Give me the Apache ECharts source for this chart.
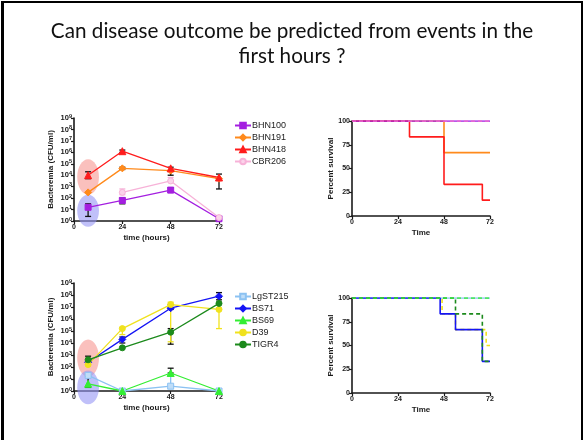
<!DOCTYPE html>
<html><head><meta charset="utf-8">
<script src="https://cdn.jsdelivr.net/npm/echarts@6/dist/echarts.min.js"></script>
<style>
html,body{margin:0;padding:0;background:#fff;}
#wrap{position:relative;width:584px;height:440px;overflow:hidden;}
#c{width:584px;height:440px;}
#frame{position:absolute;left:1px;top:1px;width:577px;height:460px;border-left:3px solid #000;border-top:2px solid #000;border-right:2px solid #000;pointer-events:none;}
</style></head>
<body><div id="wrap"><div id="c"></div><div id="frame"></div></div>
<script>
// ---- Data (bacteremia values are log10 CFU/ml) ----
const hours = [7, 24, 48, 72];
const bhn100 = [1.2, 1.8, 2.7, 0.2];
const bhn191 = [2.5, 4.6, 4.4, 3.7];
const bhn418 = [4.0, 6.1, 4.6, 3.8];
const cbr206 = [null, 2.5, 3.5, 0.3];
const lgst215 = [1.3, 0, 0.4, 0];
const bs71 = [2.4, 4.3, 6.9, 7.9];
const bs69 = [0.6, 0, 1.5, 0];
const d39 = [2.2, 5.2, 7.2, 6.8];
const tigr4 = [2.6, 3.6, 4.9, 7.3];

// error bars: [time, low, high]
const errTopBlack = [[7,3.7,4.3],[7,0.4,1.5],[24,6.0,6.2],[24,4.5,4.7],[24,1.5,2.0],[48,4.0,4.7],[48,2.5,2.9],[72,2.8,4.1]];
const errTopPink = [[24,2.3,2.8],[48,3.5,3.8],[72,0.2,0.4]];
const errBotBlack = [[7,2.4,2.9],[7,0.3,1.2],[24,4.0,4.5],[48,3.9,5.2],[48,6.8,7.2],[48,1.5,1.9],[72,7.8,8.2],[72,7.3,7.6]];
const errBotYellow = [[24,4.7,5.3],[48,4.1,7.4],[72,5.2,6.9]];
const errBotBlue = [[48,0.5,1.3]];

// highlighted early-time zones: [time, low, high]
const zoneTopHigh = [[7, 2.3, 5.4]];
const zoneTopLow = [[7, -0.5, 2.3]];
const zoneBotHigh = [[7, 1.2, 4.3]];
const zoneBotLow = [[7, -1.1, 1.7]];

// survival (%) curves: [time, percent]
const survBHN100 = [[0,100],[72,100]];
const survBHN191 = [[0,100],[48,66.7],[72,66.7]];
const survBHN418 = [[0,100],[30,83.3],[48,33.3],[68,16.7],[72,16.7]];
const survCBR206 = [[0,100],[72,100]];
const survLgST215 = [[0,100],[72,100]];
const survBS71 = [[0,100],[46,83.3],[54,66.7],[68,33.3],[72,33.3]];
const survBS69 = [[0,100],[72,100]];
const survD39 = [[0,100],[47,83.3],[54,66.7],[70,50],[72,50]];
const survTIGR4 = [[0,100],[54,83.3],[68,33.3],[72,33.3]];

// ---- Chart ----
const chart = echarts.init(document.getElementById('c'), null, {renderer:'canvas'});
const FONT = 'Liberation Sans, Arial, sans-serif';
const C = {
  bhn100:'#A41FE0', bhn191:'#FF8A1C', bhn418:'#FF1C1C', cbr206:'#F7B2D8',
  lgst215:'#8CC2F2', bs71:'#1414F5', bs69:'#33EE33', d39:'#F0E21E', tigr4:'#1C8A1C'
};
const axisLineStyle = {color:'#1a1a1a', width:1.6};
const tickStyle = {show:true, length:3, lineStyle:{color:'#1a1a1a', width:1.2}};
const labelBold = {fontFamily:FONT, fontSize:7, fontWeight:'bold', color:'#1a1a1a'};

function pairs(vals){ return hours.map((h,i)=> [h, vals[i]]); }

function logAxis(gi){
  return {type:'value', gridIndex:gi, min:0, max:9, interval:1,
    name:'Bacteremia (CFU/ml)', nameLocation:'middle', nameGap:19,
    nameTextStyle:{fontFamily:FONT, fontSize:8, fontWeight:'bold', color:'#1a1a1a'},
    axisLine:{show:true, lineStyle:axisLineStyle}, axisTick:tickStyle, splitLine:{show:false},
    axisLabel:{margin:2, formatter:v=>'{b|10}{s|'+v+'}',
      rich:{b:{fontFamily:FONT,fontSize:7.5,fontWeight:'bold',color:'#1a1a1a'},
            s:{fontFamily:FONT,fontSize:5.5,fontWeight:'bold',color:'#1a1a1a',verticalAlign:'top',padding:[0,0,4,0]}}}
  };
}
function timeAxis(gi, name){
  return {type:'value', gridIndex:gi, min:0, max:72, interval:24,
    name:name, nameLocation:'middle', nameGap:13,
    nameTextStyle:{fontFamily:FONT, fontSize:8, fontWeight:'bold', color:'#1a1a1a'},
    axisLine:{show:true, lineStyle:axisLineStyle}, axisTick:tickStyle, splitLine:{show:false},
    axisLabel:Object.assign({margin:3}, labelBold)};
}
function pctAxis(gi){
  return {type:'value', gridIndex:gi, min:0, max:100, interval:25,
    name:'Percent survival', nameLocation:'middle', nameGap:16,
    nameTextStyle:{fontFamily:FONT, fontSize:8, fontWeight:'bold', color:'#1a1a1a'},
    axisLine:{show:true, lineStyle:axisLineStyle}, axisTick:tickStyle, splitLine:{show:false},
    axisLabel:Object.assign({margin:2}, labelBold)};
}

function lineSeries(name, vals, color, symbol, gi, fill){
  return {type:'line', name, xAxisIndex:gi, yAxisIndex:gi, data:pairs(vals),
    symbol, symbolSize: symbol==='triangle'?7:(symbol==='diamond'?7:6), connectNulls:false,
    lineStyle:{color, width:1.3}, itemStyle:{color: fill||color, borderColor:color, borderWidth:1},
    z:5, animation:false};
}

function errRender(params, api){
  const x = api.value(0), lo = api.value(1), hi = api.value(2);
  const p1 = api.coord([x, lo]), p2 = api.coord([x, hi]);
  const w = 3;
  const st = {stroke: api.visual('color'), lineWidth:1.3, fill:null};
  return {type:'group', children:[
    {type:'line', shape:{x1:p1[0],y1:p1[1],x2:p2[0],y2:p2[1]}, style:st},
    {type:'line', shape:{x1:p1[0]-w,y1:p1[1],x2:p1[0]+w,y2:p1[1]}, style:st},
    {type:'line', shape:{x1:p2[0]-w,y1:p2[1],x2:p2[0]+w,y2:p2[1]}, style:st}
  ]};
}
function errSeries(data, color, gi){
  return {type:'custom', xAxisIndex:gi, yAxisIndex:gi, data, renderItem:errRender,
    itemStyle:{color}, encode:{x:0, y:[1,2]}, z:4, silent:true, animation:false};
}
function zoneRender(params, api){
  const t = api.value(0), lo = api.value(1), hi = api.value(2);
  const a = api.coord([t - 5.4, lo]), b = api.coord([t + 5.4, hi]);
  return {type:'ellipse', shape:{cx:(a[0]+b[0])/2, cy:(a[1]+b[1])/2, rx:Math.abs(b[0]-a[0])/2, ry:Math.abs(a[1]-b[1])/2},
    style:{fill: api.visual('color')}};
}
function zoneSeries(data, color, gi){
  return {type:'custom', xAxisIndex:gi, yAxisIndex:gi, data, renderItem:zoneRender, clip:false,
    itemStyle:{color}, encode:{x:0, y:[1,2]}, z:1, silent:true, animation:false};
}
function survSeries(data, color, gi, dashed, z){
  return {type:'line', xAxisIndex:gi, yAxisIndex:gi, data, step:'end', symbol:'none',
    lineStyle:{color, width:1.6, type: dashed?[4,3]:'solid'}, z:z||3, animation:false};
}

const legendText = {fontFamily:FONT, fontSize:9, color:'#222', padding:[0,0,0,-4]};
const option = {
  backgroundColor:'#fff',
  animation:false,
  title:{text:'Can disease outcome be predicted from events in the\nfirst hours ?', left:'center', top:14,
    textStyle:{fontFamily:'Lato, Carlito, sans-serif', fontSize:20.7, fontWeight:'normal', color:'#111', lineHeight:25}},
  legend:[
    {data:['BHN100','BHN191','BHN418','CBR206'], orient:'vertical', left:229, top:116, itemGap:3,
     itemWidth:16, itemHeight:7, textStyle:legendText},
    {data:['LgST215','BS71','BS69','D39','TIGR4'], orient:'vertical', left:229, top:287, itemGap:3,
     itemWidth:16, itemHeight:7, textStyle:legendText}
  ],
  grid:[
    {left:74, top:118, width:145, height:103},
    {left:352, top:121, width:138, height:95},
    {left:74, top:283, width:145, height:108},
    {left:352, top:298, width:138, height:95}
  ],
  xAxis:[timeAxis(0,'time (hours)'), timeAxis(1,'Time'), timeAxis(2,'time (hours)'), timeAxis(3,'Time')],
  yAxis:[logAxis(0), pctAxis(1), logAxis(2), pctAxis(3)],
  series:[
    zoneSeries(zoneTopHigh, 'rgba(246,150,145,0.6)', 0),
    zoneSeries(zoneTopLow, 'rgba(150,150,245,0.6)', 0),
    errSeries(errTopBlack, '#111', 0),
    errSeries(errTopPink, C.cbr206, 0),
    lineSeries('BHN100', bhn100, C.bhn100, 'rect', 0),
    lineSeries('BHN191', bhn191, C.bhn191, 'diamond', 0),
    lineSeries('BHN418', bhn418, C.bhn418, 'triangle', 0),
    lineSeries('CBR206', cbr206, C.cbr206, 'circle', 0, '#FBD3EA'),

    survSeries(survBHN191, C.bhn191, 1, false, 3),
    survSeries(survBHN418, C.bhn418, 1, false, 4),
    survSeries(survBHN100, C.bhn100, 1, false, 5),
    survSeries(survCBR206, '#F06BD0', 1, true, 6),

    zoneSeries(zoneBotHigh, 'rgba(246,150,145,0.6)', 2),
    zoneSeries(zoneBotLow, 'rgba(150,150,245,0.6)', 2),
    errSeries(errBotBlack, '#111', 2),
    errSeries(errBotYellow, C.d39, 2),
    errSeries(errBotBlue, C.lgst215, 2),
    lineSeries('LgST215', lgst215, C.lgst215, 'rect', 2, '#BFDDF8'),
    lineSeries('BS71', bs71, C.bs71, 'diamond', 2),
    lineSeries('BS69', bs69, C.bs69, 'triangle', 2),
    lineSeries('D39', d39, C.d39, 'circle', 2),
    lineSeries('TIGR4', tigr4, C.tigr4, 'circle', 2),

    survSeries(survD39, C.d39, 3, true, 4),
    survSeries(survBS71, C.bs71, 3, false, 5),
    survSeries(survTIGR4, C.tigr4, 3, true, 6),
    survSeries(survLgST215, C.lgst215, 3, false, 3),
    survSeries(survBS69, C.bs69, 3, true, 7)
  ]
};
chart.setOption(option);
</script>
</body></html>
